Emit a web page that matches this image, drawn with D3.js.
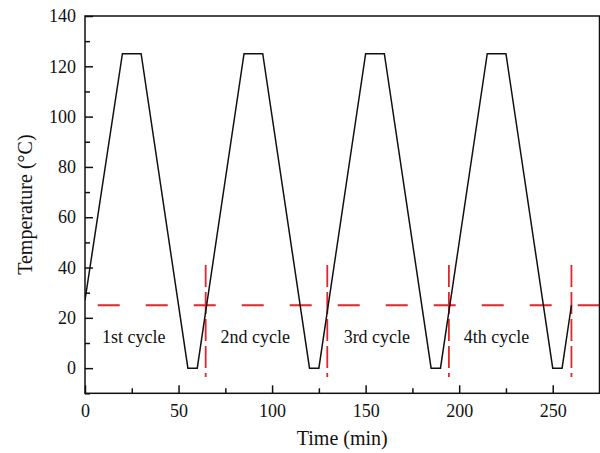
<!DOCTYPE html>
<html>
<head>
    <title>Temperature cycles</title>
    <script src="https://d3js.org/d3.v7.min.js"></script>
    <style>
        body { margin: 0; background: white; }
        text { font-family: "Liberation Serif", "Times New Roman", serif; fill: #111; }
        .axis path { display: none; }
        .axis line { stroke: #111; stroke-width: 1.5; }
    </style>
</head>
<body>
    <svg width="600" height="453"></svg>
    <script>
        // temperature profile (min, degC)
        const time = [0, 20, 30, 55, 60, 85, 95, 120, 125, 150, 160, 185, 190, 215, 225, 250, 255, 260];
        const temperature = [27, 125, 125, 0, 0, 125, 125, 0, 0, 125, 125, 0, 0, 125, 125, 0, 0, 25];

        const cycleNames = ["1st cycle", "2nd cycle", "3rd cycle", "4th cycle"];
        const cycleLabelTime = [26, 91, 156, 220];
        const cycleEnds = [64.5, 129.5, 194.5, 260];
        const refTemp = 25;

        const xTicks = [0, 50, 100, 150, 200, 250];
        const xMinor = [25, 75, 125, 175, 225, 275];
        const yTicks = [0, 20, 40, 60, 80, 100, 120, 140];
        const yMinor = [-10, 10, 30, 50, 70, 90, 110, 130];

        const plotLeft = 85, plotRight = 599.5, plotTop = 16, plotBottom = 393.3;

        const svg = d3.select("svg");

        const x = d3.scaleLinear([0, 275], [plotLeft, plotRight]);
        const y = d3.scaleLinear([-10, 140], [plotBottom, plotTop]);

        svg.append("clipPath").attr("id", "plot")
            .append("rect")
            .attr("x", plotLeft).attr("y", plotTop)
            .attr("width", plotRight - plotLeft).attr("height", plotBottom - plotTop);

        // axes, ticks point inward
        svg.append("g").attr("class", "axis")
            .attr("transform", "translate(0," + plotBottom + ")")
            .call(d3.axisBottom(x).tickValues(xTicks).tickSizeInner(-8).tickSizeOuter(0).tickPadding(11))
            .selectAll("text").style("font-size", "18px");
        svg.append("g").attr("class", "axis")
            .attr("transform", "translate(0," + plotBottom + ")")
            .call(d3.axisBottom(x).tickValues(xMinor).tickFormat("").tickSizeInner(-5).tickSizeOuter(0));

        svg.append("g").attr("class", "axis")
            .attr("transform", "translate(" + plotLeft + ",0)")
            .call(d3.axisLeft(y).tickValues(yTicks).tickSizeInner(-8).tickSizeOuter(0).tickPadding(9))
            .selectAll("text").style("font-size", "18px");
        svg.append("g").attr("class", "axis")
            .attr("transform", "translate(" + plotLeft + ",0)")
            .call(d3.axisLeft(y).tickValues(yMinor).tickFormat("").tickSizeInner(-5).tickSizeOuter(0));

        // reference lines
        const g = svg.append("g").attr("clip-path", "url(#plot)");

        g.append("line")
            .attr("x1", x(0)).attr("x2", x(275))
            .attr("y1", y(refTemp)).attr("y2", y(refTemp))
            .attr("stroke", "#e3242b").attr("stroke-width", 1.8)
            .attr("stroke-dasharray", "22,26").attr("stroke-dashoffset", 35.3);

        g.selectAll(".cyc")
            .data(cycleEnds)
            .enter().append("line")
            .attr("class", "cyc")
            .attr("x1", d => x(d)).attr("x2", d => x(d))
            .attr("y1", y(41)).attr("y2", y(-3.5))
            .attr("stroke", "#e3242b").attr("stroke-width", 1.8)
            .attr("stroke-dasharray", "22,5");

        // temperature curve
        const line = d3.line()
            .x((d, i) => x(time[i]))
            .y(d => y(d));

        g.append("path")
            .datum(temperature)
            .attr("d", line)
            .attr("fill", "none")
            .attr("stroke", "#111")
            .attr("stroke-width", 1.5)
            .attr("stroke-linejoin", "miter");

        svg.selectAll(".lbl")
            .data(cycleNames)
            .enter().append("text")
            .attr("class", "lbl")
            .attr("x", (d, i) => x(cycleLabelTime[i]))
            .attr("y", y(10))
            .attr("text-anchor", "middle")
            .style("font-size", "18px")
            .text(d => d);

        // frame
        svg.append("rect")
            .attr("x", plotLeft).attr("y", plotTop)
            .attr("width", plotRight - plotLeft).attr("height", plotBottom - plotTop)
            .attr("fill", "none").attr("stroke", "#111").attr("stroke-width", 1.5);

        // titles
        svg.append("text")
            .attr("x", (plotLeft + plotRight) / 2).attr("y", 445)
            .attr("text-anchor", "middle")
            .style("font-size", "20px")
            .text("Time (min)");

        svg.append("text")
            .attr("transform", "translate(32," + (plotTop + plotBottom) / 2 + ") rotate(-90)")
            .attr("text-anchor", "middle")
            .style("font-size", "20px")
            .text("Temperature (\u00B0C)");
    </script>
</body>
</html>
